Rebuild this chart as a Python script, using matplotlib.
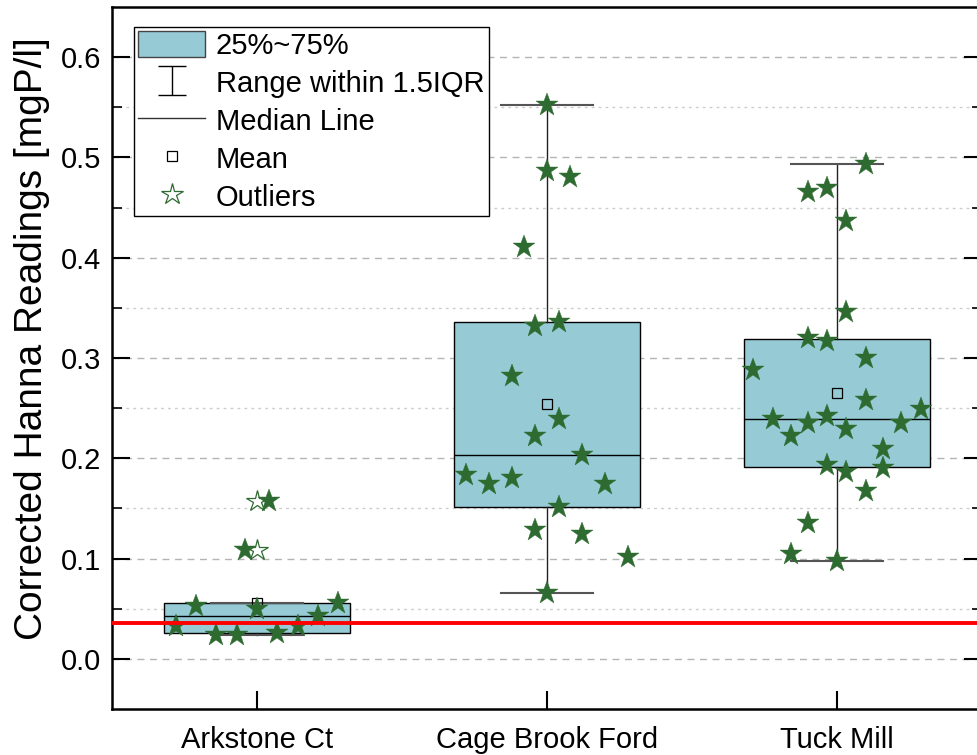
import numpy as np
import matplotlib
matplotlib.use('Agg')
import matplotlib.pyplot as plt
from matplotlib.patches import Patch
from matplotlib.lines import Line2D

###-----------Data----------------------------------------------
sites = ['Arkstone Ct', 'Cage Brook Ford', 'Tuck Mill']

arkstone_vals = [0.157, 0.109, 0.053, 0.050, 0.056, 0.043, 0.033, 0.024, 0.024, 0.026, 0.033]
arkstone_jit = [0.04, -0.04, -0.21, 0.0, 0.28, 0.21, -0.28, -0.14, -0.07, 0.07, 0.14]

cage_vals = [0.552, 0.486, 0.480, 0.411, 0.332, 0.336, 0.282, 0.239, 0.222, 0.203,
             0.183, 0.174, 0.180, 0.174, 0.151, 0.128, 0.125, 0.102, 0.066]
cage_jit = [0.0, 0.0, 0.08, -0.08, -0.04, 0.04, -0.12, 0.04, -0.04, 0.12,
            -0.28, -0.20, -0.12, 0.20, 0.04, -0.04, 0.12, 0.28, 0.0]

tuck_vals = [0.493, 0.466, 0.470, 0.437, 0.346, 0.320, 0.317, 0.300, 0.288, 0.258,
             0.249, 0.239, 0.235, 0.242, 0.229, 0.235, 0.222, 0.209, 0.193, 0.186,
             0.190, 0.167, 0.135, 0.105, 0.098]
tuck_jit = [0.10, -0.10, -0.035, 0.03, 0.03, -0.10, -0.035, 0.10, -0.29, 0.10,
            0.29, -0.22, -0.10, -0.035, 0.03, 0.22, -0.16, 0.16, -0.035, 0.03,
            0.16, 0.10, -0.10, -0.16, 0.0]

threshold = 0.036
####-----------------------------------------------------------

box_color = '#96cbd6'
star_color = '#2e6b30'

plt.rcParams['font.family'] = ['Liberation Sans', 'DejaVu Sans']

all_vals = [arkstone_vals, cage_vals, tuck_vals]
all_jit = [arkstone_jit, cage_jit, tuck_jit]

##--------------box statistics (Origin style quartiles)-----------------
stats = []
for vals in all_vals:
    v = np.array(vals)
    q1 = np.percentile(v, 25, method='weibull')
    q3 = np.percentile(v, 75, method='weibull')
    iqr = q3 - q1
    inside = v[(v >= q1 - 1.5 * iqr) & (v <= q3 + 1.5 * iqr)]
    stats.append(dict(med=np.median(v), q1=q1, q3=q3, mean=v.mean(),
                      whislo=inside.min(), whishi=inside.max(),
                      fliers=v[(v < q1 - 1.5 * iqr) | (v > q3 + 1.5 * iqr)]))

fig = plt.figure(figsize=(9.77, 7.55), dpi=100)
ax = fig.add_axes([112 / 977, 1 - 709 / 755, 870 / 977, 702 / 755])

positions = np.arange(1, len(sites) + 1)
ax.bxp(stats, positions=positions, widths=0.64, capwidths=0.32, showfliers=False,
       showmeans=True, patch_artist=True,
       boxprops=dict(facecolor=box_color, edgecolor='black', linewidth=1.0),
       medianprops=dict(color='black', linewidth=1.0),
       whiskerprops=dict(color='#222222', linewidth=1.0),
       capprops=dict(color='#555555', linewidth=1.5),
       meanprops=dict(marker='s', markerfacecolor='none', markeredgecolor='black',
                      markersize=6.5, markeredgewidth=0.9),
       zorder=2)

# outliers as hollow stars at box centre
for pos, st in zip(positions, stats):
    if len(st['fliers']):
        ax.plot([pos] * len(st['fliers']), st['fliers'], ls='none', marker='*',
                markersize=16, markerfacecolor='white', markeredgecolor=star_color,
                markeredgewidth=0.9, zorder=3)

# all data points as jittered filled stars
for pos, vals, jit in zip(positions, all_vals, all_jit):
    ax.plot(pos + np.array(jit), vals, ls='none', marker='*', markersize=17,
            color=star_color, markeredgewidth=0.3, zorder=4)

ax.axhline(threshold, color='red', linewidth=2.8, zorder=5)

##--------------axes styling------------------------------------------
ax.set_xlim(0.5, 3.5)
ax.set_ylim(-0.05, 0.65)
ax.set_xticks(positions)
ax.set_xticklabels(sites)
ax.set_yticks(np.arange(0, 0.61, 0.1))
ax.set_yticks(np.arange(0.05, 0.65, 0.1), minor=True)
ax.yaxis.set_major_formatter(matplotlib.ticker.FormatStrFormatter('%.1f'))
ax.tick_params(axis='both', which='major', direction='in', length=13, width=1.5,
               labelsize=21, right=True, pad=8)
ax.tick_params(axis='y', which='minor', direction='in', length=7, width=1.2, right=True)
ax.tick_params(axis='x', which='major', pad=12)
for sp in ax.spines.values():
    sp.set_linewidth(1.8)

ax.grid(axis='y', which='major', color='#b4b4b4', linestyle=(0, (5, 4)), linewidth=1.0, zorder=0)
ax.grid(axis='y', which='minor', color='#cccccc', linestyle=(0, (2, 3)), linewidth=1.0, zorder=0)
ax.set_axisbelow(True)

ax.set_ylabel('Corrected Hanna Readings [mgP/l]', fontsize=28)
ax.yaxis.set_label_coords(-0.071, 0.527)

##--------------legend------------------------------------------------
eb = ax.errorbar([np.nan], [np.nan], yerr=[1], ls='none', color='black',
                 capsize=10, elinewidth=1.0, capthick=1.0)
handles = [Patch(facecolor=box_color, edgecolor='#444444', linewidth=1.0),
           eb,
           Line2D([], [], color='#333333', linewidth=1.0),
           Line2D([], [], ls='none', marker='s', markerfacecolor='none',
                  markeredgecolor='black', markersize=6.5, markeredgewidth=0.9),
           Line2D([], [], ls='none', marker='*', markersize=16, markerfacecolor='white',
                  markeredgecolor=star_color, markeredgewidth=0.9)]
labels = ['25%~75%', 'Range within 1.5IQR', 'Median Line', 'Mean', 'Outliers']
leg = ax.legend(handles, labels, loc='upper left', bbox_to_anchor=(22 / 870, 1 - 20 / 702),
                borderaxespad=0, fontsize=21, frameon=True, fancybox=False,
                edgecolor='black', framealpha=1, labelspacing=0.3, borderpad=0.15,
                handlelength=2.3, handleheight=1.0, handletextpad=0.35)
leg.get_frame().set_linewidth(1.0)

fig.savefig('out.png', dpi=100)
